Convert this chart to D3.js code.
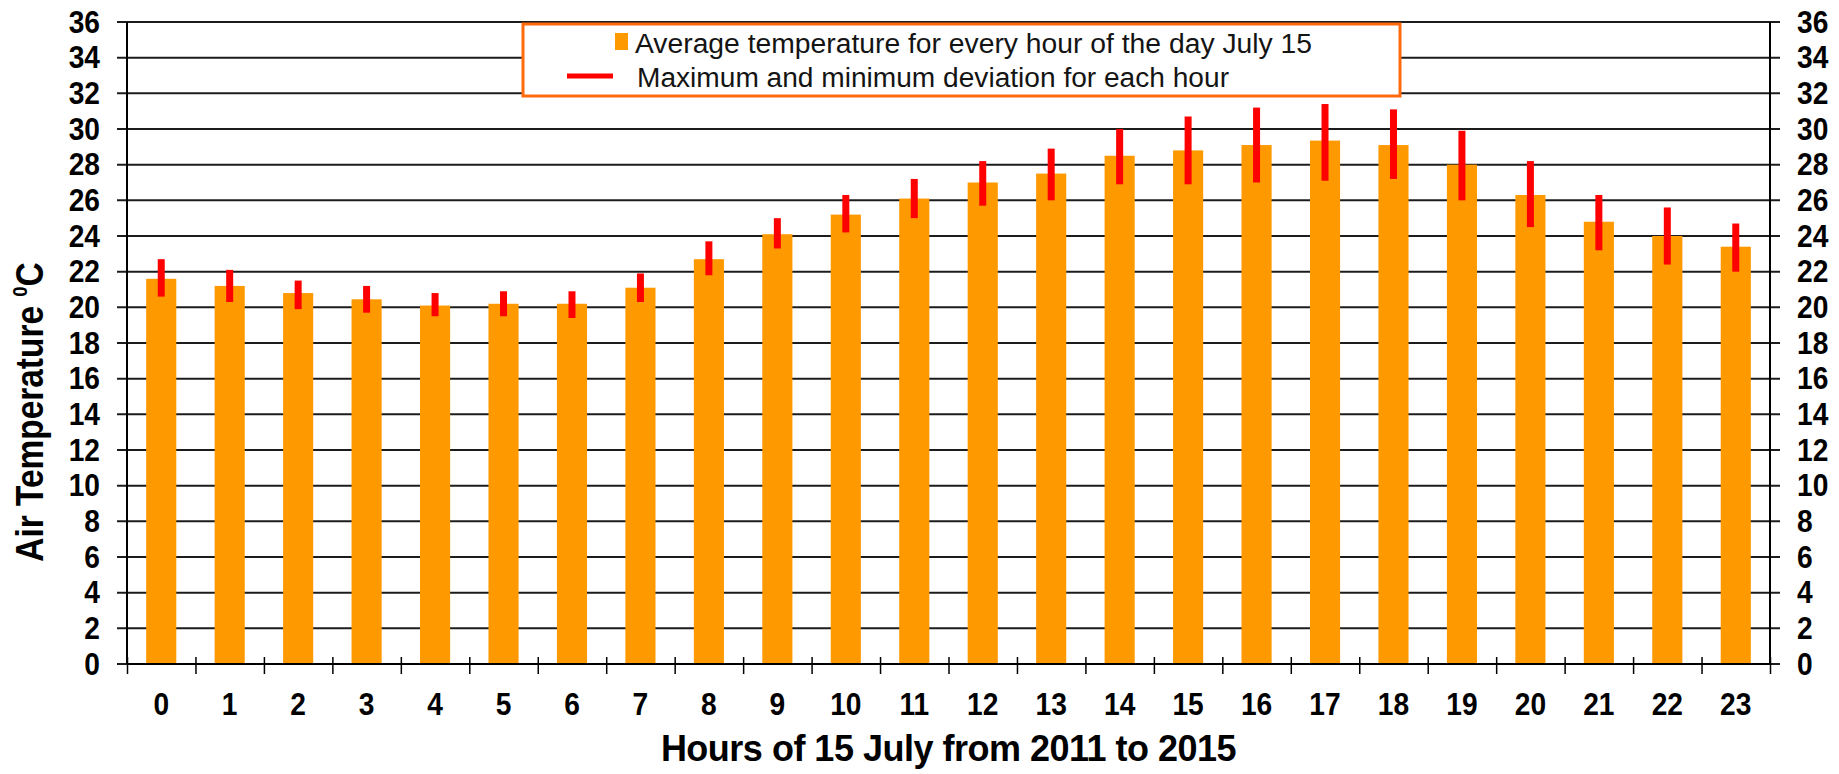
<!DOCTYPE html>
<html lang="en">
<head>
<meta charset="UTF-8">
<title>Air temperature, 15 July</title>
<script src="https://d3js.org/d3.v7.min.js"></script>
<style>
  body { margin: 0; background: #fff; }
  svg text { font-family: "Liberation Sans", Arial, sans-serif; }
</style>
</head>
<body>
<div id="chart"></div>
<script>
// hours of the day
const hours = ["0", "1", "2", "3", "4", "5", "6", "7", "8", "9", "10", "11",
               "12", "13", "14", "15", "16", "17", "18", "19", "20", "21", "22", "23"];
// average temperature per hour (°C)
const avgTemp = [21.6, 21.2, 20.8, 20.45, 20.1, 20.2, 20.2, 21.1, 22.7, 24.1, 25.2, 26.1,
                 27.0, 27.5, 28.5, 28.8, 29.1, 29.35, 29.1, 28.0, 26.3, 24.8, 24.0, 23.4];
// max and min deviation per hour (°C)
const maxTemp = [22.7, 22.1, 21.5, 21.2, 20.8, 20.9, 20.9, 21.9, 23.7, 25.0, 26.3, 27.2,
                 28.2, 28.9, 30.0, 30.7, 31.2, 31.4, 31.1, 29.9, 28.2, 26.3, 25.6, 24.7];
const minTemp = [20.6, 20.3, 19.9, 19.7, 19.5, 19.5, 19.4, 20.3, 21.8, 23.3, 24.2, 25.0,
                 25.7, 26.0, 26.9, 26.9, 27.0, 27.1, 27.2, 26.0, 24.5, 23.2, 22.4, 22.0];
const yTicks = [0, 2, 4, 6, 8, 10, 12, 14, 16, 18, 20, 22, 24, 26, 28, 30, 32, 34, 36];

const legendLabels = ["Average temperature for every hour of the day July 15",
                      "Maximum and minimum deviation for each hour"];

const width = 1839, height = 774;
const plotLeft = 127, plotRight = 1770, plotTop = 22, plotBottom = 664;
const squish = 0.88;   // the original text is narrow

const svg = d3.select("#chart").append("svg")
    .attr("width", width)
    .attr("height", height);

// scales
const x = d3.scaleBand().domain(hours).range([plotLeft, plotRight]);
const xEdge = d3.scaleLinear().domain([0, hours.length]).range([plotLeft, plotRight]);
const y = d3.scaleLinear().domain([0, 36]).range([plotBottom, plotTop]);

// horizontal grid lines (they also act as the tick marks)
svg.append("g")
    .selectAll("line")
    .data(yTicks)
    .enter()
    .append("line")
    .attr("x1", plotLeft - 10)
    .attr("x2", plotRight + 10)
    .attr("y1", d => y(d))
    .attr("y2", d => y(d))
    .attr("stroke", "#1c1c1c")
    .attr("stroke-width", 2);

// bars
const barW = x.bandwidth() * 0.44;
svg.append("g")
    .selectAll("rect")
    .data(avgTemp)
    .enter()
    .append("rect")
    .attr("x", (d, i) => x(hours[i]) + (x.bandwidth() - barW) / 2)
    .attr("y", d => y(d))
    .attr("width", barW)
    .attr("height", d => y(0) - y(d))
    .attr("fill", "#ff9900");

// max / min deviation
const errW = 7;
svg.append("g")
    .selectAll("rect")
    .data(hours)
    .enter()
    .append("rect")
    .attr("x", d => x(d) + x.bandwidth() / 2 - errW / 2)
    .attr("y", (d, i) => y(maxTemp[i]))
    .attr("width", errW)
    .attr("height", (d, i) => y(minTemp[i]) - y(maxTemp[i]))
    .attr("fill", "#ff0000");

// axis lines
svg.append("line")
    .attr("x1", plotLeft).attr("x2", plotLeft)
    .attr("y1", y(36)).attr("y2", y(0))
    .attr("stroke", "#000").attr("stroke-width", 2);
svg.append("line")
    .attr("x1", plotRight).attr("x2", plotRight)
    .attr("y1", y(36)).attr("y2", y(0))
    .attr("stroke", "#000").attr("stroke-width", 2);
svg.append("line")
    .attr("x1", plotLeft).attr("x2", plotRight)
    .attr("y1", y(0)).attr("y2", y(0))
    .attr("stroke", "#000").attr("stroke-width", 2);

function styleAxis(g) {
    g.attr("font-size", 32)
     .attr("font-weight", "bold")
     .attr("font-family", "'Liberation Sans', Arial, sans-serif");
    g.select(".domain").remove();
    g.selectAll("text").attr("fill", "#000");
}

// left axis
const yLeft = svg.append("g")
    .attr("transform", `translate(${plotLeft},0)`)
    .call(d3.axisLeft(y).tickValues(yTicks).tickSize(0).tickPadding(27))
    .call(styleAxis);
yLeft.selectAll("text")
    .attr("x", -27 / squish)
    .attr("transform", `scale(${squish},1)`);

// right axis
const yRight = svg.append("g")
    .attr("transform", `translate(${plotRight},0)`)
    .call(d3.axisRight(y).tickValues(yTicks).tickSize(0).tickPadding(27))
    .call(styleAxis);
yRight.selectAll("text")
    .attr("x", 27 / squish)
    .attr("transform", `scale(${squish},1)`);

// x tick marks at category boundaries
const xTicks = svg.append("g")
    .attr("transform", `translate(0,${plotBottom})`)
    .call(d3.axisBottom(xEdge).tickValues(d3.range(hours.length + 1)).tickSize(10).tickFormat(""));
xTicks.select(".domain").remove();
xTicks.selectAll("line").attr("y1", -7).attr("stroke", "#000").attr("stroke-width", 1.5);

// x labels
const xLabels = svg.append("g")
    .attr("transform", `translate(0,${plotBottom})`)
    .call(d3.axisBottom(x).tickSize(0).tickPadding(28))
    .call(styleAxis);
xLabels.selectAll("text").attr("transform", `scale(${squish},1)`);

// axis titles
svg.append("text")
    .attr("x", (plotLeft + plotRight) / 2)
    .attr("y", 761)
    .attr("text-anchor", "middle")
    .attr("font-size", 36)
    .attr("font-weight", "bold")
    .attr("letter-spacing", -0.5)
    .attr("fill", "#000")
    .text("Hours of 15 July from 2011 to 2015");

const yTitle = svg.append("text")
    .attr("transform", `translate(43,412) rotate(-90) scale(${squish},1)`)
    .attr("text-anchor", "middle")
    .attr("font-size", 38)
    .attr("font-weight", "bold")
    .attr("fill", "#000");
yTitle.append("tspan").text("Air Temperature  ");
yTitle.append("tspan").attr("font-size", 21).attr("dy", -16).text("0");
yTitle.append("tspan").attr("dy", 16).text("C");

// legend
const legend = svg.append("g");
legend.append("rect")
    .attr("x", 523).attr("y", 24)
    .attr("width", 877).attr("height", 72)
    .attr("fill", "#fff")
    .attr("stroke", "#ff6a0d")
    .attr("stroke-width", 3);
legend.append("rect")
    .attr("x", 615).attr("y", 33)
    .attr("width", 13).attr("height", 17)
    .attr("fill", "#ff9900");
legend.append("line")
    .attr("x1", 567).attr("x2", 613)
    .attr("y1", 76).attr("y2", 76)
    .attr("stroke", "#ff0000")
    .attr("stroke-width", 5);
legend.append("text")
    .attr("x", 635).attr("y", 53)
    .attr("font-size", 27)
    .attr("fill", "#141414")
    .attr("textLength", 677)
    .attr("lengthAdjust", "spacingAndGlyphs")
    .text(legendLabels[0]);
legend.append("text")
    .attr("x", 637).attr("y", 87)
    .attr("font-size", 27)
    .attr("fill", "#141414")
    .attr("textLength", 592)
    .attr("lengthAdjust", "spacingAndGlyphs")
    .text(legendLabels[1]);
</script>
</body>
</html>
